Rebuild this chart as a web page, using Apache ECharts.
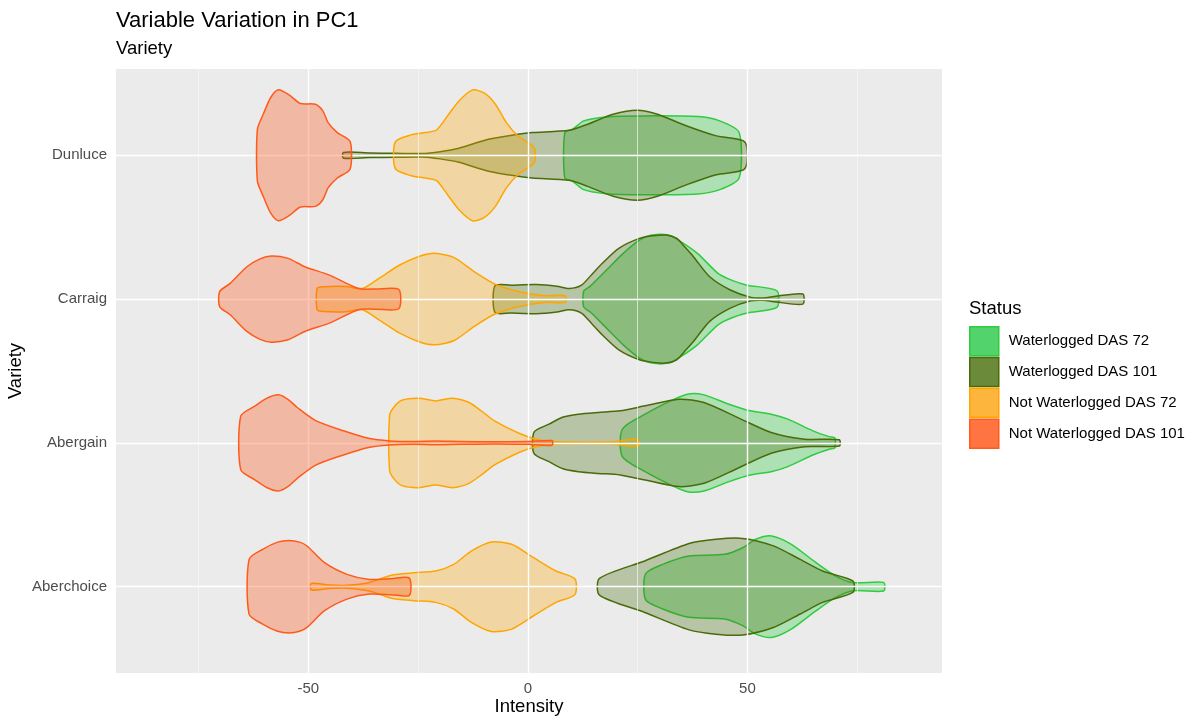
<!DOCTYPE html>
<html>
<head>
<meta charset="utf-8">
<script src="https://cdn.jsdelivr.net/npm/echarts@6/dist/echarts.min.js"></script>
<style>
html,body{margin:0;padding:0;background:#fff;}
#chart{width:1195px;height:718px;}
</style>
</head>
<body>
<div id="chart"></div>
<script>
// Categories (bottom to top)
const categories = ['Aberchoice', 'Abergain', 'Carraig', 'Dunluce'];
const statuses = ['Waterlogged DAS 72', 'Waterlogged DAS 101', 'Not Waterlogged DAS 72', 'Not Waterlogged DAS 101'];
const xTickLabels = [-50, 0, 50];

// Violin profiles: [Intensity, half-width (in category units)]
const aberchoiceW72 = [[26.8,0.09],[30.7,0.155],[36.7,0.213],[44.8,0.225],[48.9,0.271],[51.9,0.33],[55.5,0.353],[60.0,0.295],[65.1,0.179],[70.1,0.074],[74.2,0.028],[81.0,0.03]];
const aberchoiceW101 = [[16.3,0.058],[26.6,0.179],[36.7,0.30],[42.8,0.33],[48.9,0.336],[55.9,0.284],[62.0,0.19],[67.1,0.109],[74.0,0.04]];
const aberchoiceNW72 = [[-49.3,0.023],[-45.2,0.012],[-41.2,0.01],[-36.1,0.03],[-31.1,0.08],[-26.0,0.097],[-21.0,0.109],[-16.9,0.155],[-12.9,0.248],[-8.3,0.311],[-3.7,0.295],[1.3,0.202],[6.4,0.109],[10.7,0.055]];
const aberchoiceNW101 = [[-63.5,0.19],[-60.4,0.26],[-57.0,0.31],[-54.4,0.322],[-52.0,0.31],[-50.3,0.283],[-46.3,0.167],[-41.2,0.086],[-36.1,0.051],[-31.1,0.056],[-27.0,0.06]];

const abergainW72 = [[21.5,0.095],[26.7,0.20],[32.5,0.292],[36.3,0.339],[40.1,0.334],[45.8,0.269],[50.6,0.223],[55.4,0.20],[59.2,0.165],[64.9,0.084],[68.8,0.042],[69.9,0.035]];
const abergainW101 = [[1.4,0.075],[4.8,0.13],[8.0,0.18],[11.5,0.20],[16.0,0.212],[21.0,0.223],[26.7,0.258],[34.4,0.304],[40.1,0.281],[47.8,0.176],[55.4,0.072],[63.0,0.026],[70.9,0.022]];
const abergainNW72 = [[-31.5,0.19],[-30.5,0.25],[-28.7,0.297],[-24.8,0.311],[-21.0,0.292],[-17.2,0.311],[-13.4,0.281],[-10.5,0.22],[-7.6,0.153],[-1.9,0.065],[1.9,0.026],[6.7,0.008],[19.1,0.006],[21.0,0.014],[25.1,0.023]];
const abergainNW101 = [[-65.4,0.186],[-62.1,0.258],[-59.5,0.31],[-56.8,0.334],[-54.5,0.30],[-52.5,0.246],[-48.2,0.153],[-42.0,0.084],[-36.3,0.032],[-31.5,0.014],[-26.0,0.01],[-21.0,0.013],[-15.3,0.01],[-7.6,0.008],[0.0,0.01],[5.5,0.016]];

const carraigW72 = [[12.7,0.054],[14.2,0.09],[17.9,0.202],[21.7,0.318],[25.4,0.41],[28.2,0.445],[32.0,0.445],[34.8,0.40],[38.6,0.318],[43.3,0.179],[46.5,0.13],[49.9,0.097],[56.7,0.058]];
const carraigW101 = [[-7.5,0.093],[-3.8,0.097],[1.9,0.102],[6.6,0.09],[9.4,0.074],[12.2,0.097],[14.5,0.17],[16.9,0.248],[20.7,0.353],[25.4,0.422],[28.5,0.44],[31.5,0.445],[33.9,0.422],[35.8,0.36],[37.7,0.295],[41.4,0.155],[46.1,0.063],[50.8,0.012],[53.5,0.008],[56.5,0.02],[62.6,0.035]];
const carraigNW72 = [[-48.0,0.075],[-46.6,0.086],[-41.4,0.088],[-37.7,0.074],[-33.9,0.144],[-29.2,0.237],[-24.5,0.30],[-21.2,0.318],[-16.9,0.29],[-12.2,0.19],[-7.5,0.104],[-1.9,0.051],[3.8,0.023],[8.5,0.023]];
const carraigNW101 = [[-70.2,0.052],[-67.8,0.109],[-64.0,0.225],[-61.0,0.28],[-58.4,0.30],[-54.6,0.283],[-50.8,0.225],[-45.2,0.167],[-38.6,0.074],[-34.8,0.07],[-29.4,0.067]];

const dunluceW72 = [[8.4,0.157],[10.2,0.181],[12.7,0.239],[17.8,0.267],[26.1,0.274],[38.7,0.269],[43.7,0.239],[48.1,0.158]];
const dunluceW101 = [[-42.0,0.02],[-36.0,0.016],[-30.0,0.014],[-24.1,0.012],[-20.0,0.025],[-15.7,0.049],[-9.0,0.111],[-2.3,0.146],[1.0,0.158],[9.4,0.174],[13.6,0.216],[19.4,0.285],[24.9,0.313],[29.5,0.285],[36.2,0.204],[42.9,0.135],[49.4,0.093]];
const dunluceNW72 = [[-30.2,0.093],[-26.6,0.142],[-23.3,0.158],[-20.8,0.176],[-18.3,0.274],[-15.7,0.378],[-12.6,0.455],[-9.9,0.432],[-7.4,0.355],[-4.9,0.227],[-2.3,0.135],[1.4,0.053]];
const dunluceNW101 = [[-61.6,0.18],[-60.2,0.29],[-58.6,0.40],[-56.8,0.455],[-54.3,0.418],[-51.8,0.36],[-48.4,0.355],[-46.7,0.309],[-45.5,0.227],[-43.4,0.158],[-40.5,0.097]];

// Styles
const lineColors = ['#2fcc40', '#4a6b0a', '#ffa500', '#ff5a1a'];
const fillColors = ['rgba(30,200,46,0.3)', 'rgba(62,106,5,0.3)', 'rgba(255,165,0,0.3)', 'rgba(255,69,0,0.3)'];
const keyColors = ['#53d36b', '#6b8a3a', '#fdb53e', '#ff7440'];

const profiles = [
  [aberchoiceW72, abergainW72, carraigW72, dunluceW72],
  [aberchoiceW101, abergainW101, carraigW101, dunluceW101],
  [aberchoiceNW72, abergainNW72, carraigNW72, dunluceNW72],
  [aberchoiceNW101, abergainNW101, carraigNW101, dunluceNW101]
];

const FONT = '"Liberation Sans", Arial, sans-serif';
const chart = echarts.init(document.getElementById('chart'), null, {renderer: 'canvas'});

const majorX = [-50, 0, 50];
const minorX = [-75, -25, 25, 75];
const gridData = []
  .concat(minorX.map(v => ({xAxis: v, lineStyle: {color: '#f7f7f7', width: 0.7, type: 'solid'}})))
  .concat(majorX.map(v => ({xAxis: v, lineStyle: {color: '#ffffff', width: 1.4, type: 'solid'}})))
  .concat(categories.map((c, i) => ({yAxis: i, lineStyle: {color: '#ffffff', width: 1.4, type: 'solid'}})));

const series = [{
  type: 'line',
  data: [],
  z: 1,
  silent: true,
  markLine: {
    silent: true,
    symbol: ['none', 'none'],
    label: {show: false},
    animation: false,
    data: gridData
  }
}];

statuses.forEach((s, si) => {
  series.push({
    name: s,
    type: 'custom',
    z: 2 + si,
    itemStyle: {color: keyColors[si], borderColor: lineColors[si], borderWidth: 1.5},
    data: categories.map((c, i) => [0, i]),
    encode: {x: 0, y: 1},
    renderItem: function (params, api) {
      const ci = params.dataIndex;
      const prof = profiles[si][ci];
      const top = prof.map(p => api.coord([p[0], ci + p[1]]));
      const bottom = prof.slice().reverse().map(p => api.coord([p[0], ci - p[1]]));
      return {
        type: 'polygon',
        shape: {points: top.concat(bottom), smooth: 0.25},
        style: {fill: fillColors[si], stroke: lineColors[si], lineWidth: 1.5}
      };
    }
  });
});

const option = {
  animation: false,
  backgroundColor: '#ffffff',
  textStyle: {fontFamily: FONT},
  title: [
    {text: 'Variable Variation in PC1', left: 116, top: 10, padding: 0,
     textStyle: {fontFamily: FONT, fontSize: 22, fontWeight: 'normal', color: '#000'}},
    {text: 'Variety', left: 116, top: 39, padding: 0,
     textStyle: {fontFamily: FONT, fontSize: 18.5, fontWeight: 'normal', color: '#000'}},
    {text: 'Status', left: 969, top: 299, padding: 0,
     textStyle: {fontFamily: FONT, fontSize: 18.5, fontWeight: 'normal', color: '#000'}}
  ],
  legend: {
    orient: 'vertical',
    left: 969,
    top: 326,
    padding: 0,
    itemWidth: 29,
    itemHeight: 29,
    itemGap: 0.3,
    icon: 'rect',
    selectedMode: false,
    textStyle: {fontFamily: FONT, fontSize: 15, color: '#000', padding: [0, 0, 0, 5]},
    data: statuses.map((s, si) => ({name: s, itemStyle: {color: keyColors[si], borderColor: lineColors[si], borderWidth: 1.5}}))
  },
  grid: {
    left: 116, right: 253, top: 69, bottom: 45,
    outerBoundsMode: 'none',
    containLabel: false,
    show: true, backgroundColor: '#ebebeb', borderWidth: 0
  },
  xAxis: {
    type: 'value',
    min: -93.8,
    max: 94.3,
    name: 'Intensity',
    nameLocation: 'middle',
    nameGap: 24,
    nameMoveOverlap: false,
    nameTextStyle: {fontFamily: FONT, fontSize: 18.5, color: '#000'},
    axisLine: {show: false},
    axisTick: {show: true, length: 4, lineStyle: {color: '#333333', width: 1.1}, customValues: xTickLabels},
    axisLabel: {show: true, fontFamily: FONT, fontSize: 15, color: '#4d4d4d', margin: 8, customValues: xTickLabels},
    splitLine: {show: false}
  },
  yAxis: {
    type: 'value',
    min: -0.6,
    max: 3.6,
    name: 'Variety',
    nameLocation: 'middle',
    nameGap: 91,
    nameRotate: 90,
    nameMoveOverlap: false,
    nameTextStyle: {fontFamily: FONT, fontSize: 18.5, color: '#000'},
    axisLine: {show: false},
    axisTick: {show: true, length: 4, lineStyle: {color: '#333333', width: 1.1}, customValues: [0, 1, 2, 3]},
    axisLabel: {show: true, fontFamily: FONT, fontSize: 15, color: '#4d4d4d', margin: 9,
      customValues: [0, 1, 2, 3],
      formatter: v => categories[Math.round(v)] || ''},
    splitLine: {show: false}
  },
  series: series
};
chart.setOption(option);
</script>
</body>
</html>
